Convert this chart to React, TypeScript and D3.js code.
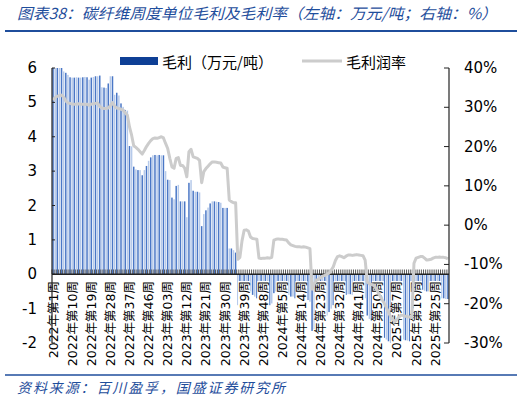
import React from "react";
import * as d3 from "d3";

// weeks shown per year (2022 week 1 .. 2025 week 31)
const years = [2022, 2023, 2024, 2025];
const weeksPerYear = [52, 52, 52, 31];

// gross profit, 万元/吨 (left axis)
const profit2022 = [
  6.0, 6.0, 6.0, 6.0, 6.0, 5.9, 5.86, 5.8, 5.73, 5.72,
  5.72, 5.73, 5.72, 5.72, 5.73, 5.74, 5.73, 5.66, 5.72, 5.74,
  5.76, 5.76, 5.78, 5.44, 5.43, 5.42, 5.55, 5.76, 5.76, 5.22,
  5.28, 5.2, 4.97, 4.87, 4.78, 4.76, 3.73, 3.72, 3.13, 3.05,
  3.03, 3.03, 2.88, 3.03, 3.15, 3.3, 3.4, 3.46, 3.47, 3.46,
  3.47, 3.46,
];
const profit2023 = [
  3.46, 3.0, 2.75, 2.74, 2.23, 2.18, 2.57, 2.6,
  2.12, 2.12, 2.12, 1.66, 2.66, 2.74, 2.43, 2.4, 2.4, 2.38,
  1.4, 1.75, 1.86, 1.94, 2.06, 2.12, 2.12, 2.11, 2.1, 2.08,
  1.93, 1.93, 1.93, 0.75, 0.75, 0.7, 0.63, -0.9, -0.85, -0.5,
  -0.3, -0.3, -0.35, -0.5, -0.6, -0.65, -0.7, -0.95, -0.95, -0.95,
  -0.9, -0.9, -0.9, -0.85,
];
const profit2024 = [
  -0.55, -0.5, -0.5, -0.5, -0.5, -0.5,
  -0.55, -0.6, -0.65, -0.65, -0.7, -0.7, -0.7, -0.7, -0.7, -0.72,
  -0.75, -0.8, -1.65, -1.6, -1.5, -1.45, -1.4, -1.35, -1.3, -1.2,
  -1.1, -1.0, -0.9, -0.75, -0.65, -0.6, -0.62, -0.65, -0.6, -0.58,
  -0.58, -0.6, -0.58, -0.56, -0.57, -0.58, -0.6, -0.7, -1.2, -1.3,
  -1.35, -1.4, -1.45, -1.55, -1.65, -1.75,
];
const profit2025 = [
  -1.85, -1.9, -1.95, -2.0,
  -2.0, -2.0, -1.98, -1.92, -1.88, -1.9, -1.92, -1.93, -1.95, -1.95,
  -0.8, -0.5, -0.48, -0.46, -0.45, -0.48, -0.5, -0.5, -0.48, -0.47,
  -0.6, -0.65, -0.68, -0.7, -0.7, -0.72, -0.72,
];

// gross margin, % (right axis)
const margin2022 = [
  31.8, 32.5, 32.8, 33.0, 33.1, 32.6, 31.6, 31.1, 31.0, 30.8,
  30.8, 30.8, 30.9, 30.8, 30.8, 30.7, 30.8, 30.5, 30.8, 30.9,
  31.0, 31.1, 30.2, 29.8, 29.7, 29.7, 29.8, 30.4, 31.2, 30.3,
  29.8, 29.7, 29.5, 29.3, 28.6, 28.0, 25.0, 22.9, 20.2, 19.8,
  19.3, 18.7, 18.1, 19.0, 20.0, 20.8, 21.5, 22.0, 22.2, 22.1,
  22.3, 22.5,
];
const margin2023 = [
  22.2, 20.8, 19.5, 17.0, 14.8, 14.5, 17.0, 17.2,
  15.2, 15.2, 14.5, 12.3, 18.7, 19.3, 17.4, 17.2, 17.0, 16.5,
  10.8, 13.6, 14.4, 15.0, 15.6, 16.1, 16.1, 16.0, 15.9, 15.8,
  14.8, 14.6, 14.5, 6.4, 6.0, 5.7, 5.7, -8.7, -8.2, -4.0,
  -1.3, -1.2, -1.5, -3.0, -3.4, -3.5, -3.6, -8.4, -8.5, -8.4,
  -8.4, -8.3, -8.4, -8.2,
];
const margin2024 = [
  -3.8, -3.6, -3.5, -3.6, -3.6, -3.7,
  -3.8, -4.5, -5.0, -5.2, -5.4, -5.5, -5.5, -5.6, -5.5, -5.6,
  -5.8, -6.0, -16.3, -15.0, -14.0, -13.8, -13.3, -13.0, -12.8, -12.5,
  -12.2, -11.5, -10.6, -9.0, -8.0, -7.8, -8.0, -8.3, -7.9, -7.6,
  -7.6, -7.7, -7.6, -7.5, -7.6, -7.7, -7.8, -8.9, -14.4, -15.0,
  -15.1, -15.3, -16.0, -17.0, -18.0, -19.0,
];
const margin2025 = [
  -19.9, -21.0, -22.2, -23.3,
  -24.0, -24.6, -24.0, -23.3, -22.9, -23.0, -23.2, -23.3, -23.4, -23.5,
  -9.7, -8.4, -8.2, -8.0, -8.0, -8.4, -8.9, -8.8, -8.7, -8.4,
  -8.2, -8.2, -8.1, -8.2, -8.2, -8.3, -8.6,
];

const leftTicks = [-2, -1, 0, 1, 2, 3, 4, 5, 6];
const rightTicks = [-30, -20, -10, 0, 10, 20, 30, 40];

const categories = years.flatMap((y, k) =>
  d3.range(1, weeksPerYear[k] + 1).map(
    w => `${y}年第${y === 2023 ? String(w).padStart(2, "0") : w}周`
  )
);
const profit = [...profit2022, ...profit2023, ...profit2024, ...profit2025];
const margin = [...margin2022, ...margin2023, ...margin2024, ...margin2025];

const FONT = "'DejaVu Sans', 'Noto Sans CJK SC', sans-serif";
const CJK = "'Noto Sans CJK SC', sans-serif";
const BLUE = "#1f4e9c";

const App: React.FC = () => {
  const x = d3.scaleBand<string>().domain(categories).range([52, 449]);
  const yL = d3.scaleLinear().domain([-2, 6]).range([343, 68]);
  const yR = d3.scaleLinear().domain([-30, 40]).range([343, 68]);
  const bw = x.bandwidth();
  const cx = (c: string) => (x(c) as number) + bw / 2;

  const line = d3
    .line<number>()
    .x((_, i) => cx(categories[i]))
    .y(d => yR(d));

  const labelled = categories.filter((_, i) => i % 9 === 0);

  return (
    <svg
      width={526}
      height={400}
      style={{ position: "absolute", left: 0, top: 0, background: "#fff" }}
    >
      {/* title */}
      <text
        x={17}
        y={19}
        fontFamily={CJK}
        fontSize={15}
        fontStyle="italic"
        fill={BLUE}
        textLength={480}
        lengthAdjust="spacingAndGlyphs"
      >
        图表38：碳纤维周度单位毛利及毛利率（左轴：万元/吨；右轴：%）
      </text>
      <line x1={5} x2={517} y1={31} y2={31} stroke={BLUE} strokeWidth={2} />

      {/* bars */}
      {categories.map((c, i) => {
        const v = profit[i];
        return (
          <rect
            key={c}
            x={(x(c) as number) + bw * 0.15}
            width={bw * 0.7}
            y={Math.min(yL(v), yL(0))}
            height={Math.abs(yL(v) - yL(0))}
            fill={i % 2 === 0 ? "#4a77c6" : "#b6caea"}
          />
        );
      })}

      {/* category axis at zero */}
      {categories.map(c => (
        <line
          key={"t" + c}
          x1={x(c) as number}
          x2={x(c) as number}
          y1={269.5}
          y2={274}
          stroke="#444"
          strokeWidth={0.9}
        />
      ))}
      <line x1={52} x2={449} y1={yL(0)} y2={yL(0)} stroke="#222" strokeWidth={1.3} />

      {/* rotated category labels */}
      {labelled.map(c => (
        <g key={"l" + c} transform={`translate(${cx(c)},281) rotate(-90)`}>
          <rect x={-80} y={-6} width={80} height={12} fill="#fff" />
          <text
            textAnchor="end"
            dominantBaseline="central"
            fontFamily={FONT}
            fontSize={12.5}
            fill="#000"
          >
            {c}
          </text>
        </g>
      ))}

      {/* margin line */}
      <path
        d={line(margin) as string}
        fill="none"
        stroke="#cccccc"
        strokeWidth={3}
        strokeLinejoin="round"
      />

      {/* left axis */}
      <line x1={52} x2={52} y1={68} y2={343} stroke="#222" strokeWidth={1.2} />
      {leftTicks.map(t => (
        <g key={"yl" + t}>
          <line x1={52} x2={55} y1={yL(t)} y2={yL(t)} stroke="#222" />
          <text
            x={37}
            y={yL(t)}
            textAnchor="end"
            dominantBaseline="central"
            fontFamily={FONT}
            fontSize={15}
          >
            {String(t)}
          </text>
        </g>
      ))}

      {/* right axis */}
      <line x1={449} x2={449} y1={68} y2={343} stroke="#222" strokeWidth={1.2} />
      {rightTicks.map(t => (
        <g key={"yr" + t}>
          <line x1={444} x2={449} y1={yR(t)} y2={yR(t)} stroke="#222" />
          <text
            x={464}
            y={yR(t)}
            dominantBaseline="central"
            fontFamily={FONT}
            fontSize={15}
          >
            {`${t}%`}
          </text>
        </g>
      ))}

      {/* legend */}
      <rect x={120} y={57} width={38} height={8} fill="#0e3f95" />
      <text x={162} y={61} dominantBaseline="central" fontFamily={CJK} fontSize={15}>
        毛利（万元/吨）
      </text>
      <line x1={302} x2={342} y1={61} y2={61} stroke="#cccccc" strokeWidth={3} />
      <text x={346} y={61} dominantBaseline="central" fontFamily={CJK} fontSize={15}>
        毛利润率
      </text>

      {/* footer */}
      <line x1={5} x2={517} y1={375} y2={375} stroke={BLUE} strokeWidth={1.5} />
      <text
        x={17}
        y={393}
        fontFamily={CJK}
        fontSize={14}
        fontStyle="italic"
        fill={BLUE}
        textLength={268}
        lengthAdjust="spacing"
      >
        资料来源：百川盈孚，国盛证券研究所
      </text>
    </svg>
  );
};

export default App;
